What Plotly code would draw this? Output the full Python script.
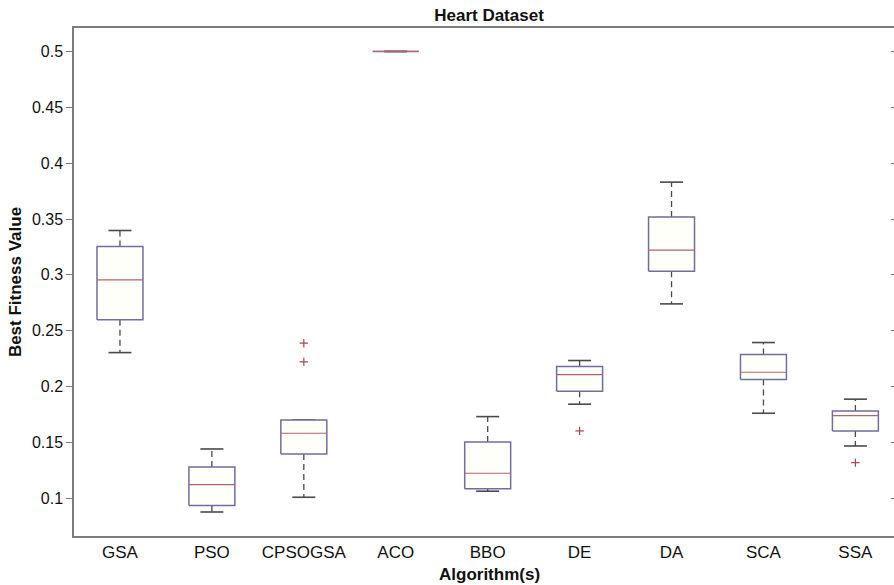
import plotly.graph_objects as go

# Best fitness value per algorithm (box statistics)
algorithms = ["GSA", "PSO", "CPSOGSA", "ACO", "BBO", "DE", "DA", "SCA", "SSA"]
lower_whisker = [0.2304, 0.0877, 0.1009, 0.5000, 0.1063, 0.1842, 0.2740, 0.1761, 0.1468]
q1_values     = [0.2597, 0.0934, 0.1397, 0.5000, 0.1086, 0.1958, 0.3033, 0.2062, 0.1603]
medians       = [0.2955, 0.1122, 0.1582, 0.5000, 0.1224, 0.2107, 0.3221, 0.2128, 0.1740]
q3_values     = [0.3253, 0.1280, 0.1701, 0.5000, 0.1504, 0.2179, 0.3517, 0.2286, 0.1782]
upper_whisker = [0.3397, 0.1441, 0.1701, 0.5000, 0.1731, 0.2233, 0.3830, 0.2394, 0.1887]

outlier_algorithm = ["CPSOGSA", "CPSOGSA", "DE", "SSA"]
outlier_values    = [0.2388, 0.2221, 0.1603, 0.1319]

y_ticks = [0.1, 0.15, 0.2, 0.25, 0.3, 0.35, 0.4, 0.45, 0.5]
y_tick_labels = ["0.1", "0.15", "0.2", "0.25", "0.3", "0.35", "0.4", "0.45", "0.5"]

BOX_HALF = 0.25
CAP_HALF = 0.125
BOX_COLOR = "#6f6e9e"
MEDIAN_COLOR = "#b5626c"
WHISKER_COLOR = "#4a4a4a"
AXIS_COLOR = "#7c7c7c"
FONT = "Liberation Sans, Arial, sans-serif"

pos = {name: i for i, name in enumerate(algorithms)}

box_x, box_y = [], []
med_x, med_y = [], []
wsk_x, wsk_y = [], []
cap_x, cap_y = [], []
for i in range(len(algorithms)):
    l, r = i - BOX_HALF, i + BOX_HALF
    box_x += [l, r, r, l, l, None]
    box_y += [q1_values[i], q1_values[i], q3_values[i], q3_values[i], q1_values[i], None]
    med_x += [l, r, None]
    med_y += [medians[i], medians[i], None]
    if upper_whisker[i] > q3_values[i]:
        wsk_x += [i, i, None]
        wsk_y += [q3_values[i], upper_whisker[i], None]
    if lower_whisker[i] < q1_values[i]:
        wsk_x += [i, i, None]
        wsk_y += [q1_values[i], lower_whisker[i], None]
    cap_x += [i - CAP_HALF, i + CAP_HALF, None, i - CAP_HALF, i + CAP_HALF, None]
    cap_y += [upper_whisker[i], upper_whisker[i], None, lower_whisker[i], lower_whisker[i], None]

fig = go.Figure()
fig.add_trace(go.Scatter(x=wsk_x, y=wsk_y, mode="lines",
                         line=dict(color=WHISKER_COLOR, width=1.3, dash="6px,4px"),
                         hoverinfo="skip", showlegend=False))
fig.add_trace(go.Scatter(x=cap_x, y=cap_y, mode="lines",
                         line=dict(color=WHISKER_COLOR, width=1.6),
                         hoverinfo="skip", showlegend=False))
fig.add_trace(go.Scatter(x=box_x, y=box_y, mode="lines", fill="toself",
                         fillcolor="#fffffa",
                         line=dict(color=BOX_COLOR, width=1.5),
                         hoverinfo="skip", showlegend=False))
fig.add_trace(go.Scatter(x=med_x, y=med_y, mode="lines",
                         line=dict(color=MEDIAN_COLOR, width=1.2),
                         hoverinfo="skip", showlegend=False))
fig.add_trace(go.Scatter(x=[pos[a] for a in outlier_algorithm], y=outlier_values,
                         mode="markers",
                         marker=dict(symbol="cross-thin", size=6,
                                     line=dict(color="#a8484c", width=1.2)),
                         hoverinfo="skip", showlegend=False))
# companion axis carrying the inward ticks on the right-hand side
fig.add_trace(go.Scatter(x=[None], y=[None], yaxis="y2", showlegend=False,
                         hoverinfo="skip"))

y_range = [0.0662, 0.521]

fig.update_layout(
    width=894, height=585,
    margin=dict(l=74, r=0, t=28, b=49),
    paper_bgcolor="white", plot_bgcolor="white",
    font=dict(family=FONT, size=16, color="#111111"),
    title=dict(text="<b>Heart Dataset</b>", x=0.547, xanchor="center",
               y=1 - 15 / 585, yanchor="middle", yref="container",
               font=dict(family=FONT, size=17, color="#111111")),
    xaxis=dict(range=[-0.5, 8.42], tickvals=list(range(len(algorithms))),
               ticktext=algorithms, ticks="", showgrid=False, zeroline=False,
               showline=True, linecolor=AXIS_COLOR, linewidth=1.5, mirror=True,
               tickfont=dict(size=17)),
    yaxis=dict(range=y_range, tickvals=y_ticks, ticktext=y_tick_labels,
               ticks="outside", ticklen=6, tickcolor=AXIS_COLOR, tickwidth=1.2,
               showgrid=False, zeroline=False, showline=True,
               linecolor=AXIS_COLOR, linewidth=1.5,
               tickfont=dict(size=16),
               title=dict(text="<b>Best Fitness Value</b>", standoff=6,
                          font=dict(size=17))),
    yaxis2=dict(range=y_range, overlaying="y", side="right", tickvals=y_ticks,
                ticks="inside", ticklen=3, tickcolor=AXIS_COLOR,
                showticklabels=False, showgrid=False, zeroline=False,
                showline=False),
    annotations=[dict(text="<b>Algorithm(s)</b>", xref="paper", yref="paper",
                      x=(489 - 74) / 820, y=-(574 - 536) / 508,
                      xanchor="center", yanchor="middle", showarrow=False,
                      font=dict(family=FONT, size=17, color="#111111"))],
)

fig.write_html("out.html")
